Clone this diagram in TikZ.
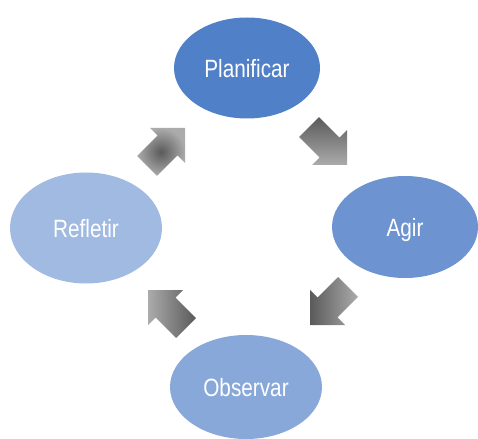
\documentclass[tikz,border=0pt]{standalone}
\usepackage{fontspec}
\setmainfont[FakeStretch=0.83]{Liberation Sans}
\usetikzlibrary{shapes.geometric}
\definecolor{cPlan}{HTML}{5080C8}
\definecolor{cAgir}{HTML}{6D94D0}
\definecolor{cObs}{HTML}{88A8DA}
\definecolor{cRef}{HTML}{A1BAE2}
\definecolor{gDark}{HTML}{5A5A5A}
\definecolor{gLight}{HTML}{ABABAB}
\tikzset{
  phase/.style={ellipse, draw=none, text=white, inner sep=0pt,
    text depth=0pt, font=\fontsize{25}{28}\selectfont},
}
\begin{document}
\begin{tikzpicture}[x=1pt,y=-1pt]
\useasboundingbox[fill=white] (0,0) rectangle (478,438);
\node[phase, fill=cPlan, minimum width=146pt, minimum height=101pt] (plan) at (247,68) {Planificar};
\node[phase, fill=cAgir, minimum width=146pt, minimum height=102pt] (agir) at (405,227) {Agir};
\node[phase, fill=cObs, minimum width=152pt, minimum height=104pt] (obs) at (246,387) {Observar};
\node[phase, fill=cRef, minimum width=152pt, minimum height=111pt] (ref) at (86,228) {Refletir};
% arrow Refletir -> Planificar (NE)
\shade[inner color=gDark, outer color=gLight]
  (185,128) -- (185,163) -- (177.4,155.4) -- (156.9,175.9) -- (137.1,156.1) -- (157.6,135.6) -- (150,128) -- cycle;
% arrow Planificar -> Agir (SE)
\shade[top color=gDark, bottom color=gLight]
  (347,165) -- (347,130) -- (339.4,137.6) -- (318.9,117.1) -- (299.1,136.9) -- (319.6,157.4) -- (312,165) -- cycle;
% arrow Agir -> Observar (SW)
\shade[left color=gDark, right color=gLight]
  (310,325) -- (345,325) -- (337.4,317.4) -- (357.9,296.9) -- (338.1,277.1) -- (317.6,297.6) -- (310,290) -- cycle;
% arrow Observar -> Refletir (NW)
\shade[left color=gLight, right color=gDark]
  (148,290) -- (183,290) -- (175.4,297.6) -- (195.9,318.1) -- (176.1,337.9) -- (155.6,317.4) -- (148,325) -- cycle;
\end{tikzpicture}
\end{document}
